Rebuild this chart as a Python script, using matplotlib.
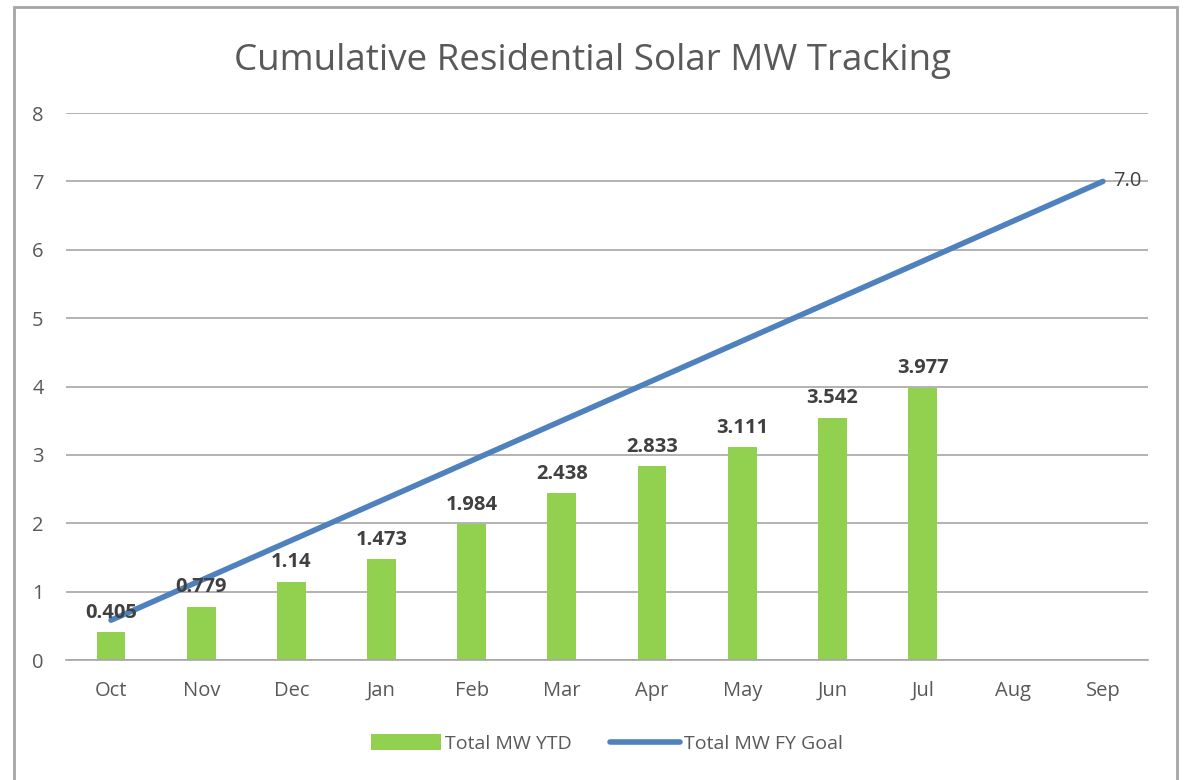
import numpy as np
import matplotlib.pyplot as plt
from matplotlib.patches import Rectangle

months = ['Oct', 'Nov', 'Dec', 'Jan', 'Feb', 'Mar', 'Apr', 'May', 'Jun', 'Jul', 'Aug', 'Sep']
ytd = [0.405, 0.779, 1.14, 1.473, 1.984, 2.438, 2.833, 3.111, 3.542, 3.977]
goal = [0.583, 1.167, 1.75, 2.333, 2.917, 3.5, 4.083, 4.667, 5.25, 5.833, 6.417, 7.0]
ytd_labels = ['0.405', '0.779', '1.14', '1.473', '1.984', '2.438', '2.833', '3.111', '3.542', '3.977']

plt.rcParams['font.family'] = ['Open Sans', 'DejaVu Sans']

fig = plt.figure(figsize=(11.84, 7.80), dpi=100)
ax = fig.add_axes([0.0557, 0.1538, 0.9139, 0.7013])

x = np.arange(len(months))
bars = ax.bar(x[:len(ytd)], ytd, width=0.32, color='#92d050', label='Total MW YTD', zorder=2)
ax.plot(x, goal, color='#4f81bd', lw=4, solid_capstyle='round', label='Total MW FY Goal', zorder=3)

for xi, v, s in zip(x, ytd, ytd_labels):
    ax.annotate(s, (xi, v), xytext=(0, 7), textcoords='offset points', ha='center', va='bottom',
                fontsize=14.5, fontweight='bold', color='#404040', zorder=4)
ax.annotate('%.1f' % goal[-1], (x[-1], goal[-1]), xytext=(7, 0), textcoords='offset points',
            ha='left', va='center', fontsize=14.5, color='#404040')

ax.set_xlim(-0.5, 11.5)
ax.set_ylim(0, 8)
ax.set_yticks(range(0, 9))
ax.set_xticks(x)
ax.set_xticklabels(months)
ax.yaxis.grid(True, color='#a6a6a6', lw=1.2, zorder=0)
ax.set_axisbelow(True)
for sp in ['top', 'right', 'left']:
    ax.spines[sp].set_visible(False)
ax.spines['bottom'].set_color('#a6a6a6')
ax.spines['bottom'].set_linewidth(1.2)
ax.tick_params(axis='both', length=0, labelsize=14.5, labelcolor='#595959')
ax.tick_params(axis='y', pad=16)
ax.tick_params(axis='x', pad=15)

fig.text(0.5, 0.922, 'Cumulative Residential Solar MW Tracking', ha='center', va='center',
         fontsize=26.5, color='#595959')

h, l = ax.get_legend_handles_labels()
order = [l.index('Total MW YTD'), l.index('Total MW FY Goal')]
ax.legend([h[i] for i in order], [l[i] for i in order], loc='center',
          bbox_to_anchor=(0.5, -0.153), ncol=2, frameon=False, fontsize=14,
          labelcolor='#595959', handlelength=3.6, handleheight=0.9, columnspacing=2.0,
          handletextpad=0.2)

# chart border
fig.add_artist(Rectangle((14 / 1184, -0.01), (1177 - 14) / 1184, 1 - 7 / 780 + 0.01,
                         transform=fig.transFigure, fill=False, ec='#a6a6a6', lw=2))

fig.savefig('out.png', dpi=100)
